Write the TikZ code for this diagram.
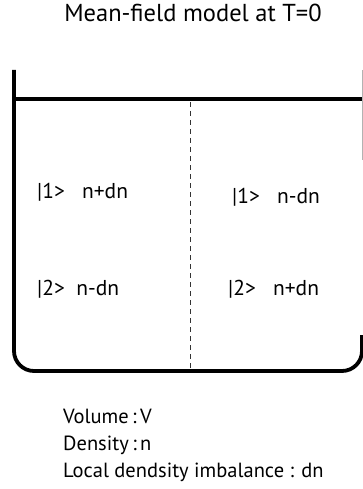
\documentclass[tikz,border=0pt]{standalone}
\usepackage{fontspec}
\setmainfont{PT Sans}
\begin{document}
\begin{tikzpicture}[x=1pt,y=-1pt,
  wall/.style={line width=3.8pt,line cap=butt,rounded corners=20pt},
  topline/.style={line width=3.8pt,line cap=butt},
  thinwall/.style={line width=1pt,draw=gray!60},
  divider/.style={line width=0.8pt,dash pattern=on 5pt off 4pt,draw=black!80},
  lbl/.style={anchor=base west,inner sep=0pt,font=\fontsize{21.5}{24}\selectfont},
  info/.style={anchor=base west,inner sep=0pt,font=\fontsize{20.5}{27}\selectfont},
  ttl/.style={anchor=base,inner sep=0pt,font=\fontsize{24.5}{28}\selectfont}]
\useasboundingbox (0,0) rectangle (363,489);
\node[ttl] (title) at (193,22) {Mean-field model at T=0};
% container
\coordinate (lt) at (14,70);
\coordinate (lb) at (14,371);
\coordinate (rb) at (362,371);
\coordinate (rs) at (362,335);
\coordinate (rt) at (362,70);
\coordinate (rm) at (362,160);
\draw[wall] (lt) -- (lb) -- (rb) -- (rs);
\draw[topline] (12.1,99) -- (363,99);
\draw[thinwall] (rt) -- (rm);
\coordinate (dtop) at (190,102);
\coordinate (dbot) at (190,369);
\draw[divider] (dtop) -- (dbot);
\node[lbl] (a1) at (37,198) {|1>\ \ \ n+dn};
\node[lbl] (b1) at (232,203) {|1>\ \ \ n-dn};
\node[lbl] (a2) at (37,295) {|2>\ \ n-dn};
\node[lbl] (b2) at (228,295) {|2>\ \ \ n+dn};
\node[info] (info1) at (63,423) {Volume\,:\,V};
\node[info] (info2) at (63,450) {Density\,:\,n};
\node[info] (info3) at (63,477) {Local dendsity imbalance : dn};
\end{tikzpicture}
\end{document}
